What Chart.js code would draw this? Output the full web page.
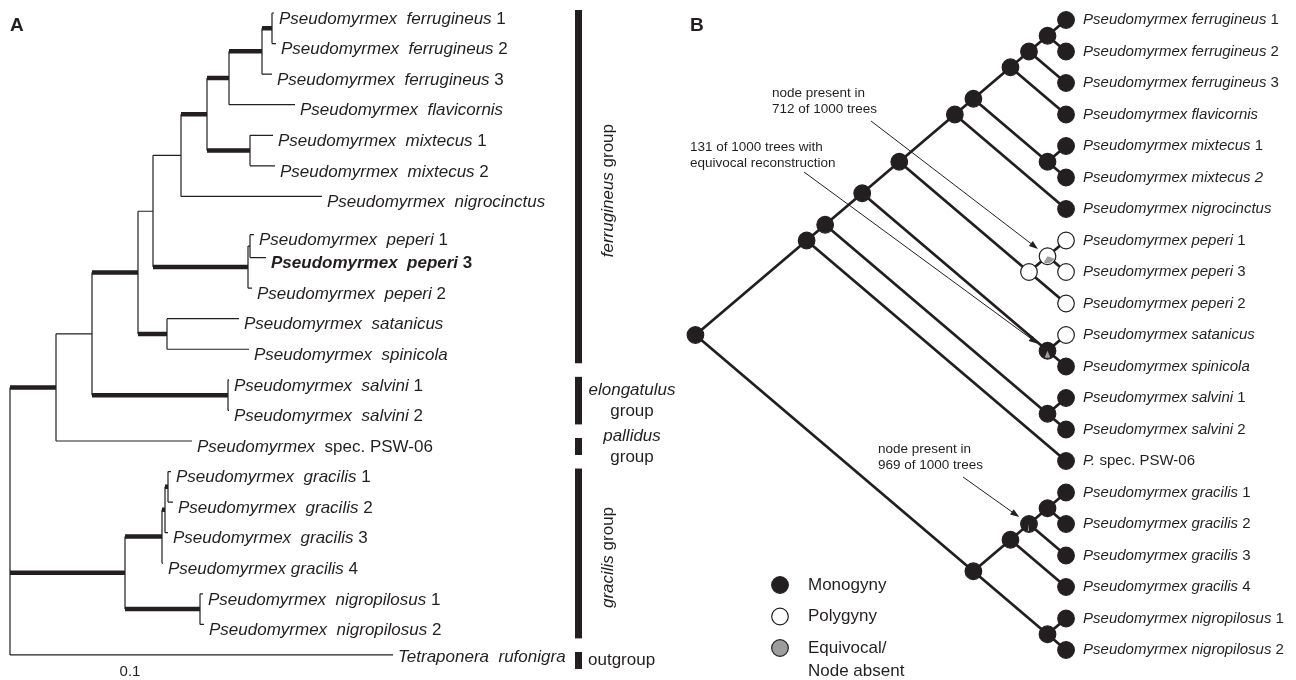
<!DOCTYPE html>
<html>
<head>
<meta charset="utf-8">
<script src="https://cdn.jsdelivr.net/npm/chart.js@4.4.1/dist/chart.umd.min.js"></script>
<style>
  html, body { margin: 0; padding: 0; background: #fff; }
  #wrap { width: 1296px; height: 680px; }
</style>
</head>
<body>
<div id="wrap"><canvas id="tree" width="1296" height="680"></canvas></div>
<script>
// leaves, top to bottom (tetra only in panel A)
const leafIds = ['fer1','fer2','fer3','flav','mix1','mix2','nigro','pep1','pep3','pep2','sat','spin',
                 'salv1','salv2','psw','gra1','gra2','gra3','gra4','ngp1','ngp2','tetra'];
// "_" toggles italic
const taxaA = ['_Pseudomyrmex  ferrugineus_ 1','_Pseudomyrmex  ferrugineus_ 2','_Pseudomyrmex  ferrugineus_ 3',
  '_Pseudomyrmex  flavicornis_','_Pseudomyrmex  mixtecus_ 1','_Pseudomyrmex  mixtecus_ 2',
  '_Pseudomyrmex  nigrocinctus_','_Pseudomyrmex  peperi_ 1','_Pseudomyrmex  peperi_ 3','_Pseudomyrmex  peperi_ 2',
  '_Pseudomyrmex  satanicus_','_Pseudomyrmex  spinicola_','_Pseudomyrmex  salvini_ 1','_Pseudomyrmex  salvini_ 2',
  '_Pseudomyrmex_  spec. PSW-06','_Pseudomyrmex  gracilis_ 1','_Pseudomyrmex  gracilis_ 2','_Pseudomyrmex  gracilis_ 3',
  '_Pseudomyrmex gracilis_ 4','_Pseudomyrmex  nigropilosus_ 1','_Pseudomyrmex  nigropilosus_ 2','_Tetraponera  rufonigra_'];
const boldA = ['pep3'];
const taxaB = ['_Pseudomyrmex ferrugineus_ 1','_Pseudomyrmex ferrugineus_ 2','_Pseudomyrmex ferrugineus_ 3',
  '_Pseudomyrmex flavicornis_','_Pseudomyrmex mixtecus_ 1','_Pseudomyrmex mixtecus 2_',
  '_Pseudomyrmex nigrocinctus_','_Pseudomyrmex peperi_ 1','_Pseudomyrmex peperi_ 3','_Pseudomyrmex peperi_ 2',
  '_Pseudomyrmex satanicus_','_Pseudomyrmex spinicola_','_Pseudomyrmex salvini_ 1','_Pseudomyrmex salvini_ 2',
  '_P._ spec. PSW-06','_Pseudomyrmex gracilis_ 1','_Pseudomyrmex gracilis_ 2','_Pseudomyrmex gracilis_ 3',
  '_Pseudomyrmex gracilis_ 4','_Pseudomyrmex nigropilosus_ 1','_Pseudomyrmex nigropilosus_ 2'];

// panel A: row of each leaf and tip position (substitutions/site)
const rowA = [0,1,2,3,4,5,6,7.25,8,9,10,11,12,13,14,15,16,17,18,19,20,21];
const tipA = [0.264,0.266,0.262,0.285,0.263,0.265,0.312,0.244,0.256,0.242,0.229,0.239,
              0.219,0.219,0.182,0.161,0.163,0.158,0.153,0.193,0.194,0.383];

// internal nodes
const nodeIds  = ['f12','f123','ffl','mix','fm','fmn','p13','pep','a6','ss','a7','sal','a8','a9',
                  'g12','g123','g','ng','gr','root'];
const nodeKids = [['fer1','fer2'],['f12','fer3'],['f123','flav'],['mix1','mix2'],['ffl','mix'],['fm','nigro'],
  ['pep1','pep3'],['p13','pep2'],['fmn','pep'],['sat','spin'],['a6','ss'],['salv1','salv2'],['a7','sal'],
  ['a8','psw'],['gra1','gra2'],['g12','gra3'],['g123','gra4'],['ngp1','ngp2'],['g','ng'],['a9','gr','tetra']];
const depthA = [0.262,0.252,0.219,0.240,0.197,0.171,0.240,0.238,0.143,0.157,0.128,0.218,0.082,0.046,
                0.158,0.155,0.152,0.190,0.115,0.000];
const thickA = [1,1,1,1,1,0,0,1,0,1,1,1,0,1,1,1,1,1,1,0]; // well-supported stem

// panel B: cladogram of the same taxa, without the outgroup
const rowB = [0,1,2,3,4,5,6,7,8,9,10,11,12,13,14,15,16,17,18,19,20];
const rootKidsB = ['a9','gr'];
const leafStateB = ['M','M','M','M','M','M','M','P','P','P','P','M','M','M','M','M','M','M','M','M','M'];
const nodeStateB = ['M','M','M','M','M','M','P','P','M','M','M','M','M','M','M','M','M','M','M','M'];
const equivNodes = ['p13','ss','g123'];
const equivShare = [0.288, 0.131, 0.031];
const notes = [['node present in','712 of 1000 trees'],['131 of 1000 trees with','equivocal reconstruction'],
               ['node present in','969 of 1000 trees']];

const groupLabel = ['_ferrugineus_ group','_elongatulus_|group','_pallidus_|group','_gracilis_ group','outgroup'];
const groupFirst = [0,12,14,15,21];
const groupLast  = [11,13,14,20,21];

const legendLabels = ['Monogyny','Polygyny','Equivocal/|Node absent'];

// ---------- layout / style ----------
const INK = '#231f20', GREY = '#9d9d9d';
const stateColor = { M: INK, P: '#ffffff', E: GREY };
const FONT = '"Liberation Sans", Arial, Helvetica, sans-serif';
const noteBox = [[772, 93, 871, 121], [690, 147, 804, 172], [878, 449, 963, 477]]; // text x,y, arrow start
const wedgeDir = [70, 90, 95];
const groupStyle = ['rotate','stack','stack','rotate','inline'];

// ---------- geometry ----------
const kidsOf = {};
nodeIds.forEach((id, i) => kidsOf[id] = nodeKids[i]);
const isLeaf = id => leafIds.indexOf(id) >= 0;
const li = id => leafIds.indexOf(id);
const ni = id => nodeIds.indexOf(id);

function yA(id) {
  if (isLeaf(id)) return rowA[li(id)];
  const k = kidsOf[id];
  return (yA(k[0]) + yA(k[k.length - 1])) / 2;
}
const xA = id => isLeaf(id) ? tipA[li(id)] : depthA[ni(id)];

const gap = { x: null, y: null };
const thinLines = [], thickLines = [];
nodeIds.forEach((id, i) => {
  const k = nodeKids[i], x = depthA[i];
  thinLines.push({ x, y: yA(k[0]) }, { x, y: yA(k[k.length - 1]) }, gap);
  k.forEach(c => {
    const target = (!isLeaf(c) && thickA[ni(c)]) ? thickLines : thinLines;
    target.push({ x, y: yA(c) }, { x: xA(c), y: yA(c) }, gap);
  });
});

const kidsB = id => id === 'root' ? rootKidsB : kidsOf[id];
function rowsB(id) {
  if (isLeaf(id)) return [rowB[li(id)]];
  return kidsB(id).flatMap(rowsB);
}
function posB(id) {
  const r = rowsB(id), lo = Math.min(...r), hi = Math.max(...r);
  return { x: hi - lo, y: (lo + hi) / 2 };
}
const linesB = [], dotsB = [], dotColors = [];
nodeIds.forEach((id, i) => {
  const p = posB(id);
  kidsB(id).forEach(c => linesB.push(p, posB(c), gap));
  dotsB.push(p); dotColors.push(stateColor[nodeStateB[i]]);
});
rowB.forEach((r, i) => { dotsB.push(posB(leafIds[i])); dotColors.push(stateColor[leafStateB[i]]); });

// ---------- text helpers ----------
function rich(ctx, str, x, y, size, bold, align) {
  const parts = str.split('_').map((t, i) => ({ t, it: i % 2 === 1 })).filter(p => p.t);
  const font = it => (it ? 'italic ' : '') + (bold ? 'bold ' : '') + size + 'px ' + FONT;
  let w = 0;
  parts.forEach(p => { ctx.font = font(p.it); p.w = ctx.measureText(p.t).width; w += p.w; });
  let cx = align === 'center' ? x - w / 2 : x;
  ctx.textAlign = 'left';
  parts.forEach(p => { ctx.font = font(p.it); ctx.fillText(p.t, cx, y); cx += p.w; });
}

function arrow(ctx, x0, y0, x1, y1) {
  const a = Math.atan2(y1 - y0, x1 - x0);
  ctx.beginPath(); ctx.moveTo(x0, y0); ctx.lineTo(x1 - 7 * Math.cos(a), y1 - 7 * Math.sin(a));
  ctx.lineWidth = 1; ctx.strokeStyle = INK; ctx.stroke();
  ctx.beginPath();
  ctx.moveTo(x1, y1);
  ctx.lineTo(x1 - 9 * Math.cos(a) + 3.2 * Math.sin(a), y1 - 9 * Math.sin(a) - 3.2 * Math.cos(a));
  ctx.lineTo(x1 - 9 * Math.cos(a) - 3.2 * Math.sin(a), y1 - 9 * Math.sin(a) + 3.2 * Math.cos(a));
  ctx.closePath(); ctx.fillStyle = INK; ctx.fill();
}

const decor = {
  id: 'decor',
  afterDatasetsDraw(chart) {
    const ctx = chart.ctx, s = chart.scales;
    const pxA = v => s.xa.getPixelForValue(v), pyA = v => s.ya.getPixelForValue(v);
    const pxB = v => s.xb.getPixelForValue(v), pyB = v => s.yb.getPixelForValue(v);
    ctx.save();
    ctx.fillStyle = INK;
    ctx.textBaseline = 'middle';

    // equivocal share as grey wedge inside node circle
    equivNodes.forEach((id, i) => {
      const p = posB(id), cx = pxB(p.x), cy = pyB(p.y);
      const half = equivShare[i] * Math.PI, mid = wedgeDir[i] * Math.PI / 180;
      ctx.beginPath(); ctx.moveTo(cx, cy);
      ctx.arc(cx, cy, 7, mid - half, mid + half); ctx.closePath();
      ctx.fillStyle = GREY; ctx.fill();
    });

    // annotation arrows
    notes.forEach((lines, i) => {
      const b = noteBox[i];
      ctx.fillStyle = INK;
      lines.forEach((t, j) => rich(ctx, t, b[0], b[1] + j * 16, 13.5, false, 'left'));
      const p = posB(equivNodes[i]), cx = pxB(p.x), cy = pyB(p.y);
      const a = Math.atan2(cy - b[3], cx - b[2]);
      arrow(ctx, b[2], b[3], cx - 12 * Math.cos(a), cy - 12 * Math.sin(a));
    });

    ctx.fillStyle = INK;
    // panel A tip labels
    leafIds.forEach((id, i) => {
      const dy = id === 'tetra' ? 2 : 6;
      rich(ctx, taxaA[i], pxA(tipA[i]) + 5, pyA(rowA[i]) + dy, 17, boldA.indexOf(id) >= 0, 'left');
    });
    // panel B tip labels
    taxaB.forEach((t, i) => rich(ctx, t, pxB(0) + 17, pyB(rowB[i]), 15, false, 'left'));

    // group bars and labels
    groupLabel.forEach((lab, i) => {
      const top = pyA(rowA[groupFirst[i]]) - 3, bot = pyA(rowA[groupLast[i]]) + 14;
      ctx.fillStyle = INK;
      ctx.fillRect(575, top, 7, bot - top);
      const mid = (top + bot) / 2;
      if (groupStyle[i] === 'rotate') {
        ctx.save(); ctx.translate(608, mid + 4); ctx.rotate(-Math.PI / 2);
        rich(ctx, lab, 0, 0, 17, false, 'center'); ctx.restore();
      } else if (groupStyle[i] === 'stack') {
        lab.split('|').forEach((t, j) => rich(ctx, t, 632, mid - 10.5 + j * 21, 17, false, 'center'));
      } else {
        rich(ctx, lab, 588, mid, 17, false, 'left');
      }
    });

    // legend
    ['M', 'P', 'E'].forEach((st, i) => {
      const y = 585 + i * 31.5;
      ctx.beginPath(); ctx.arc(780, y, 8.3, 0, 2 * Math.PI);
      ctx.fillStyle = stateColor[st]; ctx.fill();
      ctx.lineWidth = 1.2; ctx.strokeStyle = INK; ctx.stroke();
      ctx.fillStyle = INK;
      legendLabels[i].split('|').forEach((t, j) => rich(ctx, t, 808, y + j * 23, 17, false, 'left'));
    });

    // scale label and panel letters
    rich(ctx, '0.1', pxA(0.12), 672, 15, false, 'center');
    rich(ctx, 'A', 10, 26, 19, true, 'left');
    rich(ctx, 'B', 690, 26, 19, true, 'left');
    ctx.restore();
  }
};

const lineSet = (data, xAxisID, yAxisID, width, order) => ({
  data, xAxisID, yAxisID, showLine: true, borderColor: INK, borderWidth: width,
  pointRadius: 0, spanGaps: false, clip: false, order
});

new Chart(document.getElementById('tree'), {
  type: 'scatter',
  data: {
    datasets: [
      {
        data: dotsB, xAxisID: 'xb', yAxisID: 'yb', showLine: false, clip: false, order: 0,
        pointRadius: 8.3, pointBackgroundColor: dotColors, pointBorderColor: INK, pointBorderWidth: 1.2
      },
      lineSet(linesB, 'xb', 'yb', 2.8, 1),
      lineSet(thickLines, 'xa', 'ya', 4.5, 2),
      lineSet(thinLines, 'xa', 'ya', 1.2, 3)
    ]
  },
  options: {
    responsive: false,
    animation: false,
    events: [],
    layout: { padding: 0, autoPadding: false },
    plugins: { legend: { display: false }, tooltip: { enabled: false } },
    scales: {
      xa: { type: 'linear', axis: 'x', display: false, min: -0.01, max: 1.286 },
      ya: { type: 'linear', axis: 'y', display: false, reverse: true, min: -13 / 30.57, max: 667 / 30.57 },
      xb: { type: 'linear', axis: 'x', display: false, reverse: true, min: -12.41, max: 57.53 },
      yb: { type: 'linear', axis: 'y', display: false, reverse: true, min: -20 / 31.5, max: 660 / 31.5 }
    }
  },
  plugins: [decor]
});
</script>
</body>
</html>
